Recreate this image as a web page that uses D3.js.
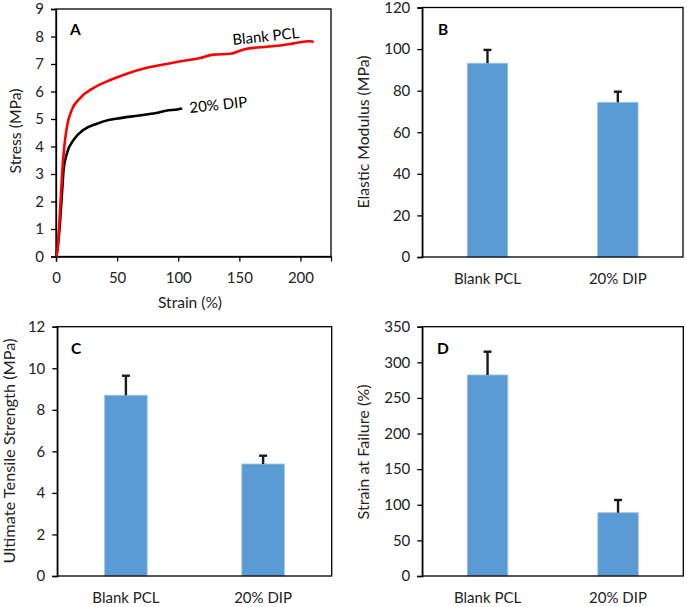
<!DOCTYPE html>
<html>
<head>
<meta charset="utf-8">
<script src="https://cdn.jsdelivr.net/npm/d3@7"></script>
<style>
html,body{margin:0;padding:0;background:#fff;}
svg{display:block;font-family:Lato,"Open Sans",sans-serif;}
</style>
</head>
<body>
<svg id="chart" width="687" height="607"></svg>
<script>
// ---------- data ----------
const strainPCL = [0, 1, 3.5, 5.2, 6.8, 9, 13, 19.9, 30.8, 43.9, 57.4, 76, 92.5, 101.9, 118, 129, 142.6, 153.5, 172.7, 183.5, 194.4, 208, 210.8];
const stressPCL = [0, 0.15, 1.8, 3.15, 4.0, 4.73, 5.34, 5.77, 6.13, 6.41, 6.64, 6.88, 7.02, 7.10, 7.22, 7.34, 7.37, 7.53, 7.63, 7.67, 7.75, 7.83, 7.8];
const strainDIP = [0, 1, 3, 4.9, 6.2, 9, 14.4, 22.6, 33.5, 43.9, 49, 68, 81.7, 89.9, 102, 103];
const stressDIP = [0, 0.2, 1.08, 2.3, 3.15, 3.76, 4.24, 4.61, 4.83, 4.97, 5.01, 5.13, 5.22, 5.30, 5.37, 5.4];

const categories = ["Blank PCL", "20% DIP"];
const modulus = [93.2, 74.4];
const modulusErr = [6.4, 5.1];
const uts = [8.70, 5.39];
const utsErr = [0.94, 0.40];
const failure = [282.2, 88.9];
const failureErr = [32.7, 17.8];

const stressTicks = [0,1,2,3,4,5,6,7,8,9];
const strainTicks = [0,50,100,150,200];
const modulusTicks = [0,20,40,60,80,100,120];
const utsTicks = [0,2,4,6,8,10,12];
const failureTicks = [0,50,100,150,200,250,300,350];

// ---------- drawing ----------
const svg = d3.select("#chart");
const TXT = "#222";
const FS = 15;

function frame(g, l, r, t, b) {
  g.append("rect").attr("x", l).attr("y", t).attr("width", r - l).attr("height", b - t)
    .attr("fill", "none").attr("stroke", "#000").attr("stroke-width", 1.3);
}

function yAxis(g, y, l, ticks) {
  const ax = g.append("g").attr("transform", `translate(${l},0)`)
    .call(d3.axisLeft(y).tickValues(ticks).tickSize(5).tickPadding(7).tickFormat(d3.format("d")));
  ax.select(".domain").attr("stroke", "#000").attr("stroke-width", 1.3);
  ax.selectAll(".tick line").attr("stroke", "#000").attr("stroke-width", 1.3);
  ax.selectAll("text").attr("font-size", FS).attr("fill", TXT).attr("font-family", "Lato");
}

function yTitle(g, text, cx, cy, len) {
  g.append("text").attr("transform", `translate(${cx},${cy}) rotate(-90)`)
    .attr("text-anchor", "middle").attr("dominant-baseline", "middle")
    .attr("font-size", 15).attr("fill", TXT)
    .attr("textLength", len).attr("lengthAdjust", "spacingAndGlyphs").text(text);
}

function panelLabel(g, text, x, y) {
  g.append("text").attr("x", x).attr("y", y).attr("font-size", 15.5).attr("font-weight", "bold")
    .attr("fill", "#000").text(text);
}

// ---- Panel A ----
{
  const g = svg.append("g");
  const L = 56, R = 331, T = 9, B = 256.5;
  const x = d3.scaleLinear().domain([0, 225]).range([L, R]);
  const y = d3.scaleLinear().domain([0, 9]).range([B, T]);
  frame(g, L, R, T, B);
  yAxis(g, y, L, stressTicks);
  const xa = g.append("g").attr("transform", `translate(0,${B})`)
    .call(d3.axisBottom(x).tickValues(strainTicks).tickSize(5).tickPadding(11));
  xa.select(".domain").attr("stroke", "#000").attr("stroke-width", 1.3);
  xa.selectAll(".tick line").attr("stroke", "#000").attr("stroke-width", 1.3);
  xa.selectAll("text").attr("font-size", FS).attr("fill", TXT).attr("font-family", "Lato");
  g.append("text").attr("x", 190).attr("y", 308).attr("text-anchor", "middle")
    .attr("font-size", 15).attr("fill", TXT)
    .attr("textLength", 64).attr("lengthAdjust", "spacingAndGlyphs").text("Strain (%)");
  yTitle(g, "Stress (MPa)", 17, 131, 85);
  const line = d3.line().x(d => x(d[0])).y(d => y(d[1])).curve(d3.curveMonotoneX);
  g.append("path").datum(strainDIP.map((s, i) => [s, stressDIP[i]]))
    .attr("d", line).attr("fill", "none").attr("stroke", "#000").attr("stroke-width", 2.6);
  g.append("path").datum(strainPCL.map((s, i) => [s, stressPCL[i]]))
    .attr("d", line).attr("fill", "none").attr("stroke", "#ff0000").attr("stroke-width", 2.6);
  panelLabel(g, "A", 70, 35);
  g.append("text").attr("transform", "translate(233,45) rotate(-6)")
    .attr("font-size", 15).attr("fill", "#000")
    .attr("textLength", 67).attr("lengthAdjust", "spacingAndGlyphs").text("Blank PCL");
  g.append("text").attr("transform", "translate(190,113) rotate(-6)")
    .attr("font-size", 15).attr("fill", "#000")
    .attr("textLength", 58).attr("lengthAdjust", "spacingAndGlyphs").text("20% DIP");
}

function barPanel(opts) {
  const g = svg.append("g");
  const { L, R, T, B } = opts;
  const x = d3.scaleBand().domain(categories).range([L, R]).paddingInner(0.69).paddingOuter(0.345);
  const y = d3.scaleLinear().domain(opts.domain).range([B, T]);
  // bars
  g.selectAll("rect.bar").data(categories).enter().append("rect").attr("class", "bar")
    .attr("x", d => x(d)).attr("width", x.bandwidth())
    .attr("y", (d, i) => y(opts.values[i])).attr("height", (d, i) => B - y(opts.values[i]))
    .attr("fill", "#5b9bd5").attr("stroke", "#9cc2e5").attr("stroke-width", 0.8);
  // error bars (plus only)
  const cap = 4;
  categories.forEach((c, i) => {
    const cx = x(c) + x.bandwidth() / 2;
    const y0 = y(opts.values[i]), y1 = y(opts.values[i] + opts.errs[i]);
    g.append("line").attr("x1", cx).attr("x2", cx).attr("y1", y0).attr("y2", y1)
      .attr("stroke", "#1a1a1a").attr("stroke-width", 2.4);
    g.append("line").attr("x1", cx - cap).attr("x2", cx + cap).attr("y1", y1).attr("y2", y1)
      .attr("stroke", "#1a1a1a").attr("stroke-width", 2.4);
  });
  frame(g, L, R, T, B);
  yAxis(g, y, L, opts.ticks);
  const xa = g.append("g").attr("transform", `translate(0,${B})`)
    .call(d3.axisBottom(x).tickSize(0).tickPadding(16.5));
  xa.select(".domain").remove();
  xa.selectAll("text").attr("font-size", FS).attr("fill", TXT).attr("font-family", "Lato");
  yTitle(g, opts.title, opts.tx, opts.ty, opts.tlen);
  panelLabel(g, opts.label, opts.lx, opts.ly);
}

barPanel({ L: 422.3, R: 683, T: 7.5, B: 257, domain: [0, 120], ticks: modulusTicks,
  values: modulus, errs: modulusErr, title: "Elastic Modulus (MPa)", tx: 365, ty: 132, tlen: 153,
  label: "B", lx: 438, ly: 35 });
barPanel({ L: 57.3, R: 331.7, T: 326.7, B: 576, domain: [0, 12], ticks: utsTicks,
  values: uts, errs: utsErr, title: "Ultimate Tensile Strength (MPa)", tx: 11, ty: 451, tlen: 225,
  label: "C", lx: 71, ly: 354 });
barPanel({ L: 422.3, R: 683.3, T: 326.7, B: 576, domain: [0, 350], ticks: failureTicks,
  values: failure, errs: failureErr, title: "Strain at Failure (%)", tx: 365, ty: 452, tlen: 135,
  label: "D", lx: 437, ly: 354 });
</script>
</body>
</html>
